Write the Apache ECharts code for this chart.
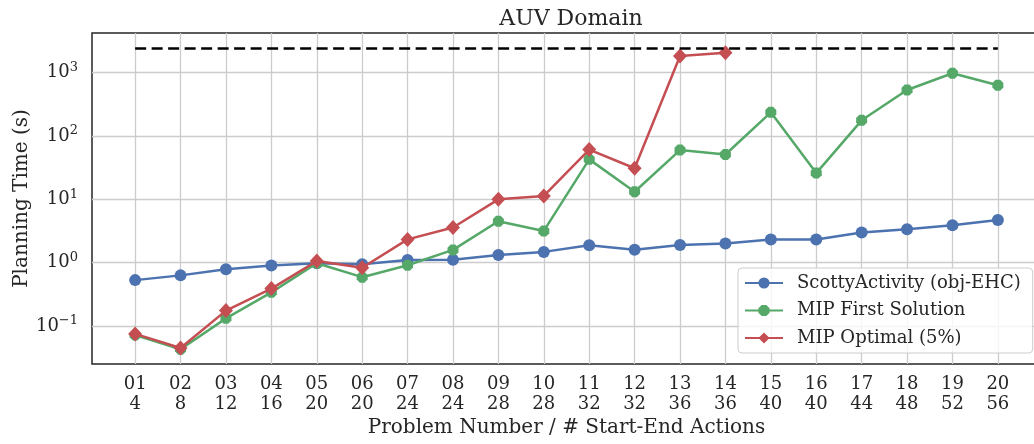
<!DOCTYPE html>
<html>
<head>
<meta charset="utf-8">
<script src="https://cdn.jsdelivr.net/npm/echarts@6/dist/echarts.min.js"></script>
<style>
  html, body { margin: 0; padding: 0; background: #fff; }
  #chart { width: 1034px; height: 444px; }
</style>
</head>
<body>
<div id="chart"></div>
<script>
// problem number / number of start-end actions
const probNums = ['01','02','03','04','05','06','07','08','09','10','11','12','13','14','15','16','17','18','19','20'];
const actions = [4, 8, 12, 16, 20, 20, 24, 24, 28, 28, 32, 32, 36, 36, 40, 40, 44, 48, 52, 56];

// planning time (s)
const scotty = [0.53, 0.63, 0.79, 0.9, 0.98, 0.94, 1.1, 1.11, 1.32, 1.48, 1.88, 1.6, 1.9, 2.0, 2.33, 2.33, 3.0, 3.36, 3.9, 4.7];
const mipFirst = [0.072, 0.043, 0.132, 0.34, 0.98, 0.59, 0.91, 1.59, 4.5, 3.17, 42.8, 13.2, 60, 51, 237, 26, 177, 534, 980, 632];
const mipOptimal = [0.075, 0.045, 0.175, 0.39, 1.06, 0.83, 2.33, 3.6, 10, 11.3, 61, 31, 1840, 2070];
const timeout = 2400;
const yTicks = [0.1, 1, 10, 100, 1000];

const font = 'DejaVu Serif';
const txt = '#262626';
const sup = { '-1': '−1', '0': '0', '1': '1', '2': '2', '3': '3' };

function pts(arr) {
  return arr.map((v, i) => [i, v]);
}

const octagon = 'path://M-0.38,-0.92 L0.38,-0.92 L0.92,-0.38 L0.92,0.38 L0.38,0.92 L-0.38,0.92 L-0.92,0.38 L-0.92,-0.38 Z';

let chart = echarts.init(document.getElementById('chart'));
let option = {
  animation: false,
  textStyle: { fontFamily: font },
  title: {
    text: 'AUV Domain',
    left: 566,
    textAlign: 'center',
    top: 3,
    textStyle: { fontFamily: font, fontSize: 22, fontWeight: 'normal', color: txt }
  },
  grid: {
    left: 92,
    top: 33,
    right: -7,
    bottom: 80,
    outerBoundsMode: 'none',
    containLabel: false,
    show: true,
    borderColor: txt,
    borderWidth: 1.5,
    backgroundColor: 'transparent'
  },
  legend: {
    left: 738,
    top: 268,
    orient: 'vertical',
    itemWidth: 38,
    itemHeight: 14,
    itemGap: 9.5,
    padding: [6, 12, 6, 6],
    backgroundColor: 'rgba(255,255,255,0.8)',
    borderColor: '#cccccc',
    borderWidth: 1,
    borderRadius: 4,
    textStyle: { fontFamily: font, fontSize: 18, lineHeight: 18, color: txt, padding: [0, 0, 0, 9] },
    data: ['ScottyActivity (obj-EHC)', 'MIP First Solution', 'MIP Optimal (5%)']
  },
  xAxis: {
    type: 'value',
    min: -0.95,
    max: 19.95,
    name: 'Problem Number / # Start-End Actions',
    nameLocation: 'middle',
    nameGap: 54,
    nameMoveOverlap: false,
    nameTextStyle: { fontFamily: font, fontSize: 20, color: txt },
    axisLine: { show: false },
    axisTick: { show: false, customValues: probNums.map((d, i) => i) },
    axisLabel: {
      customValues: probNums.map((d, i) => i),
      formatter: (v) => probNums[v] + '\n' + actions[v],
      fontFamily: font,
      fontSize: 18,
      lineHeight: 20,
      color: txt,
      margin: 10
    },
    splitLine: { show: true, lineStyle: { color: '#cccccc', width: 1.3 } }
  },
  yAxis: {
    type: 'log',
    logBase: 10,
    min: 0.0251,
    max: 4236,
    name: 'Planning Time (s)',
    nameLocation: 'middle',
    nameGap: 60,
    nameMoveOverlap: false,
    nameTextStyle: { fontFamily: font, fontSize: 20, color: txt },
    axisLine: { show: false },
    axisTick: { show: false, customValues: yTicks },
    minorTick: { show: false },
    axisLabel: {
      customValues: yTicks,
      margin: 14,
      formatter: (v) => '10{s|' + sup[String(Math.round(Math.log10(v)))] + '}',
      fontFamily: font,
      fontSize: 18,
      color: txt,
      rich: {
        s: { fontFamily: font, fontSize: 13, color: txt, verticalAlign: 'top', padding: [0, 0, 10, 0] }
      }
    },
    splitLine: { show: true, lineStyle: { color: '#cccccc', width: 1.3 } }
  },
  series: [
    {
      name: 'ScottyActivity (obj-EHC)',
      type: 'line',
      data: pts(scotty),
      symbol: 'circle',
      symbolSize: 12,
      color: '#4C72B0',
      lineStyle: { width: 2.5 },
      z: 3
    },
    {
      name: 'MIP First Solution',
      type: 'line',
      data: pts(mipFirst),
      symbol: octagon,
      symbolSize: 11,
      color: '#55A868',
      lineStyle: { width: 2.5 },
      z: 4
    },
    {
      name: 'MIP Optimal (5%)',
      type: 'line',
      data: pts(mipOptimal),
      symbol: 'diamond',
      symbolSize: [14, 15],
      color: '#C44E52',
      lineStyle: { width: 2.5 },
      z: 5
    },
    {
      name: 'timeout',
      type: 'line',
      data: [[0, timeout], [probNums.length - 1, timeout]],
      symbol: 'none',
      silent: true,
      color: '#000',
      lineStyle: { width: 2.5, type: [11, 5.5] },
      z: 6
    }
  ]
};
chart.setOption(option);
</script>
</body>
</html>
